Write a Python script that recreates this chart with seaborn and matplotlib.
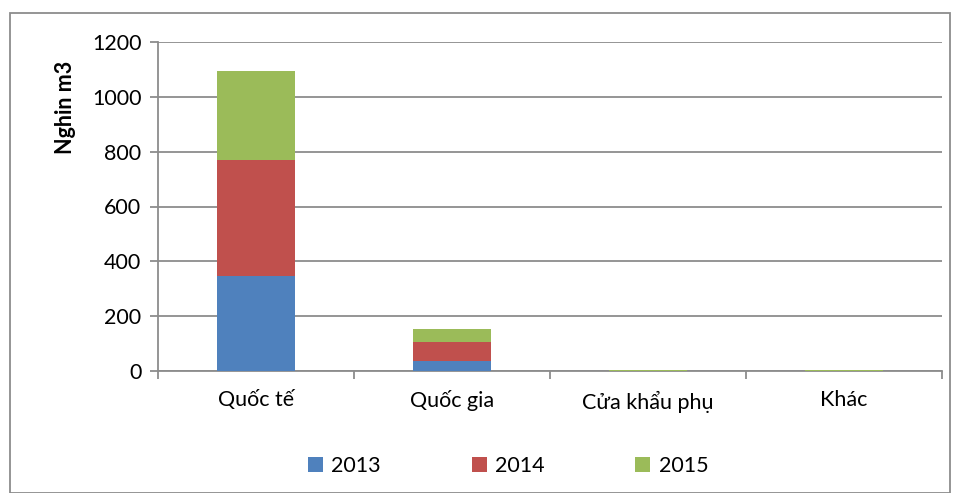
import matplotlib
matplotlib.use("Agg")
import matplotlib.pyplot as plt
import numpy as np
import pandas as pd
import seaborn as sns
from matplotlib.patches import Patch, Rectangle

# du lieu doc tu bieu do goc
categories = ["Quốc tế", "Quốc gia", "Cửa khẩu phụ", "Khác"]
years = ["2013", "2014", "2015"]
v2013 = [345, 38, 0.5, 0.5]
v2014 = [423, 66, 0.8, 0.8]
v2015 = [328, 51, 1.0, 2.5]
colors = ["#4F81BD", "#C0504D", "#9BBB59"]

sns.set_theme(style="white")
plt.rcParams["font.family"] = ["Lato", "DejaVu Sans"]
plt.rcParams["text.color"] = "black"
plt.rcParams["axes.labelcolor"] = "black"
plt.rcParams["xtick.labelcolor"] = "black"
plt.rcParams["ytick.labelcolor"] = "black"

df = pd.DataFrame({"cat": categories, "2013": v2013, "2014": v2014, "2015": v2015})
# cong don de ve chong
df["c2013"] = df["2013"]
df["c2014"] = df["2013"] + df["2014"]
df["c2015"] = df["c2014"] + df["2015"]

fig = plt.figure(figsize=(9.57, 4.93), dpi=100)
ax = fig.add_axes([158 / 957, 122 / 493, 784 / 957, 329 / 493])

for col, color in zip(["c2015", "c2014", "c2013"], colors[::-1]):
    sns.barplot(data=df, x="cat", y=col, color=color, width=0.4,
                saturation=1, linewidth=0, ax=ax, zorder=3)

ax.set_ylim(0, 1200)
ax.set_xlim(-0.5, 3.5)
ax.set_yticks(np.arange(0, 1201, 200))
ax.yaxis.grid(True, color="#8c8c8c", linewidth=1.3, zorder=0)
ax.set_axisbelow(True)
ax.set_xlabel("")
ax.set_ylabel("Nghin m3", fontsize=15.5, fontweight="bold")
ax.yaxis.set_label_coords(-0.104, 0.80)

for s in ["top", "right"]:
    ax.spines[s].set_visible(False)
for s in ["left", "bottom"]:
    ax.spines[s].set_color("#8c8c8c")
    ax.spines[s].set_linewidth(1.3)

ax.tick_params(axis="y", which="major", length=6, width=1.3, color="#8c8c8c",
               labelsize=15.5, pad=6, left=True)
ax.tick_params(axis="x", which="major", length=0, labelsize=15.5, pad=14)
ax.set_xticks(np.arange(-0.5, 3.6, 1), minor=True)
ax.tick_params(axis="x", which="minor", length=6, width=1.3, color="#8c8c8c",
               bottom=True)

handles = [Patch(facecolor=c, edgecolor="none") for c in colors]
fig.legend(handles, years, loc="center", bbox_to_anchor=(0.531, 0.055), ncol=3,
           frameon=False, fontsize=15.5, handlelength=0.7, handleheight=0.7,
           handletextpad=0.4, columnspacing=4.2)

fig.patches.append(Rectangle((10 / 957, 0), 940 / 957, 480 / 493,
                             transform=fig.transFigure, fill=False,
                             edgecolor="#8c8c8c", linewidth=1.3))

fig.savefig("out.png", dpi=100)
